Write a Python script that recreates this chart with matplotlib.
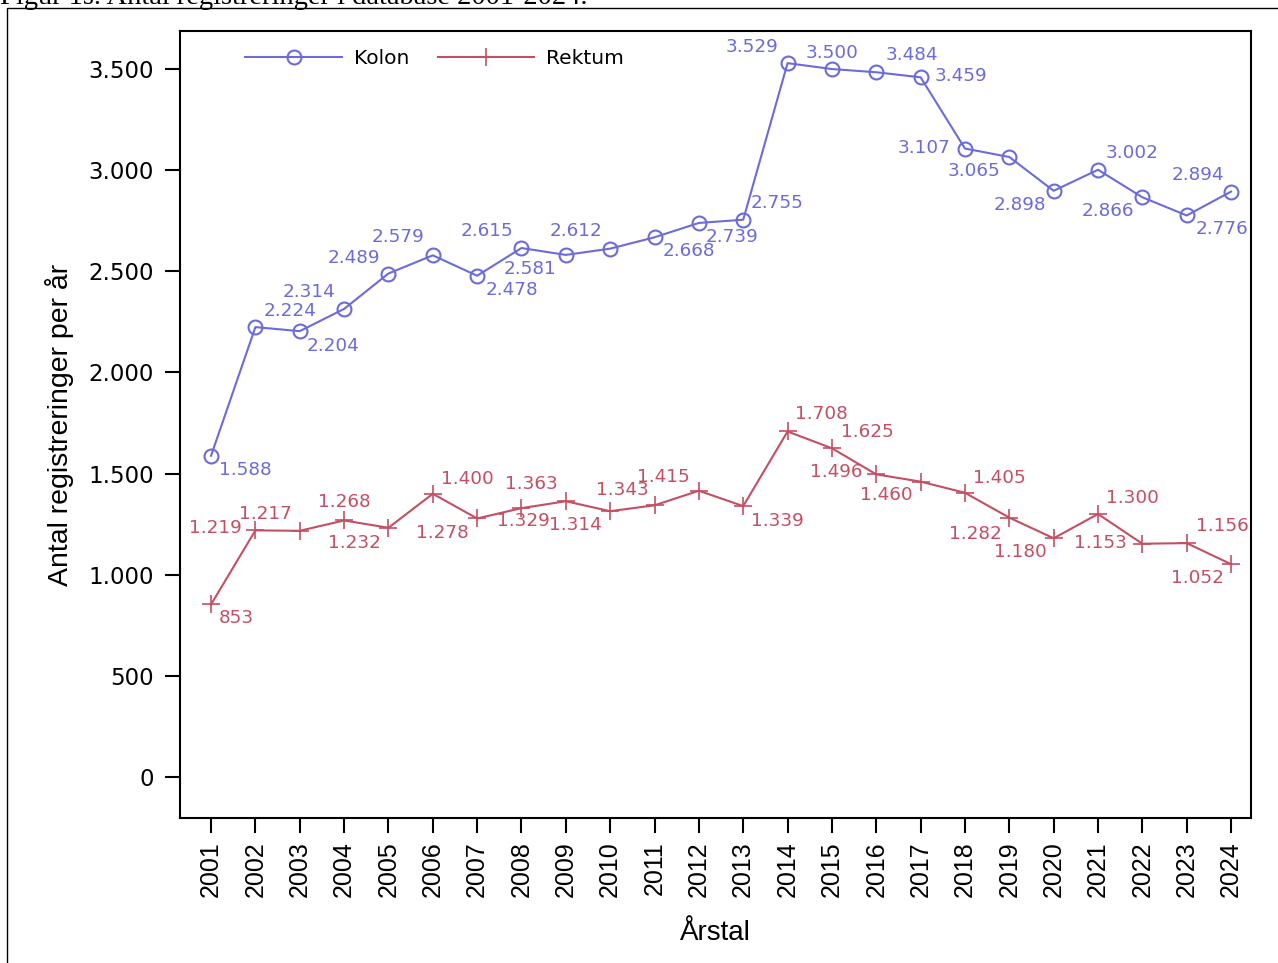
import matplotlib
matplotlib.use('Agg')
import matplotlib.pyplot as plt
from matplotlib.patches import Rectangle

years = list(range(2001, 2025))
kolon = [1588, 2224, 2204, 2314, 2489, 2579, 2478, 2615, 2581, 2612, 2668, 2739,
         2755, 3529, 3500, 3484, 3459, 3107, 3065, 2898, 3002, 2866, 2776, 2894]
rektum = [853, 1219, 1217, 1268, 1232, 1400, 1278, 1329, 1363, 1314, 1343, 1415,
          1339, 1708, 1625, 1496, 1460, 1405, 1282, 1180, 1300, 1153, 1156, 1052]

# label placement (pixel offsets dx, dy, alignment) per point
kolon_pos = [(8, -14, 'left'), (8, 16, 'left'), (7, -15, 'left'), (-9, 17, 'right'),
             (-8, 16, 'right'), (-8, 18, 'right'), (8, -14, 'left'), (-8, 17, 'right'),
             (-9, -14, 'right'), (-8, 18, 'right'), (8, -14, 'left'), (7, -14, 'left'),
             (7, 17, 'left'), (-9, 16, 'right'), (0, 16, 'center'), (9, 17, 'left'),
             (14, 1, 'left'), (-15, 1, 'right'), (-9, -14, 'right'), (-8, -14, 'right'),
             (8, 17, 'left'), (-8, -14, 'right'), (9, -14, 'left'), (-7, 17, 'right')]
rektum_pos = [(8, -14, 'left'), (-14, 2, 'right'), (-8, 17, 'right'), (0, 18, 'center'),
              (-8, -15, 'right'), (8, 15, 'left'), (-8, -15, 'right'), (2, -13, 'center'),
              (-8, 17, 'right'), (-8, -14, 'right'), (-6, 15, 'right'), (-9, 14, 'right'),
              (8, -15, 'left'), (7, 17, 'left'), (9, 16, 'left'), (-14, 2, 'right'),
              (-8, -13, 'right'), (8, 15, 'left'), (-8, -16, 'right'), (-7, -14, 'right'),
              (8, 16, 'left'), (-15, 1, 'right'), (9, 17, 'left'), (-7, -14, 'right')]

blue = '#6b6bdb'
red = '#c44f62'

fig = plt.figure(figsize=(12.78, 9.63), dpi=100)
ax = fig.add_axes([180 / 1278, 1 - 818 / 963, (1251 - 180) / 1278, (818 - 31) / 963])

fig.patches.append(Rectangle((7 / 1278, -0.01), 1.1, 1 - 8 / 963 + 0.01,
                             transform=fig.transFigure, fill=False, lw=1.0,
                             edgecolor='black'))
fig.text(0.0, 1 - 4 / 963, 'Figur 1s. Antal registreringer i database 2001-2024.',
         family='Liberation Serif', fontsize=20.5, va='baseline', ha='left')

ax.plot(years, kolon, color=blue, lw=1.5, marker='o', markersize=10,
        markerfacecolor='none', markeredgecolor=blue, markeredgewidth=1.5, label='Kolon')
ax.plot(years, rektum, color=red, lw=1.5, marker='+', markersize=13,
        markeredgewidth=1.2, label='Rektum')

for x, v, (dx, dy, ha) in zip(years, kolon, kolon_pos):
    ax.annotate(f'{v:,}'.replace(',', '.'), (x, v), xytext=(dx, dy),
                textcoords='offset pixels', ha=ha, va='center', color=blue,
                fontsize=13.2)
for x, v, (dx, dy, ha) in zip(years, rektum, rektum_pos):
    ax.annotate(f'{v:,}'.replace(',', '.'), (x, v), xytext=(dx, dy),
                textcoords='offset pixels', ha=ha, va='center', color=red,
                fontsize=13.2)

ax.set_xlim(2000.3, 2024.45)
ax.set_ylim(-203, 3688)
ax.set_xticks(years)
ax.set_xticklabels([str(y) for y in years], rotation=90, family='Liberation Sans',
                   fontsize=18)
yt = [0, 500, 1000, 1500, 2000, 2500, 3000, 3500]
ax.set_yticks(yt)
ax.set_yticklabels([f'{v:,}'.replace(',', '.') for v in yt], fontsize=16.5)
ax.tick_params(axis='both', length=11, width=1.5, pad=8)
ax.tick_params(axis='x', pad=6)
for s in ax.spines.values():
    s.set_linewidth(1.5)

ax.set_xlabel('Årstal', family='Liberation Sans', fontsize=20, labelpad=16)
ax.set_ylabel('Antal registreringer per år', family='Liberation Sans', fontsize=20.5,
              labelpad=10)

ax.legend(loc='upper left', ncol=2, frameon=False, fontsize=14.5, handlelength=4.8,
          handletextpad=0.6, columnspacing=1.4, bbox_to_anchor=(0.046, 0.997),
          borderaxespad=0.4)

fig.savefig('out.png', dpi=100)
